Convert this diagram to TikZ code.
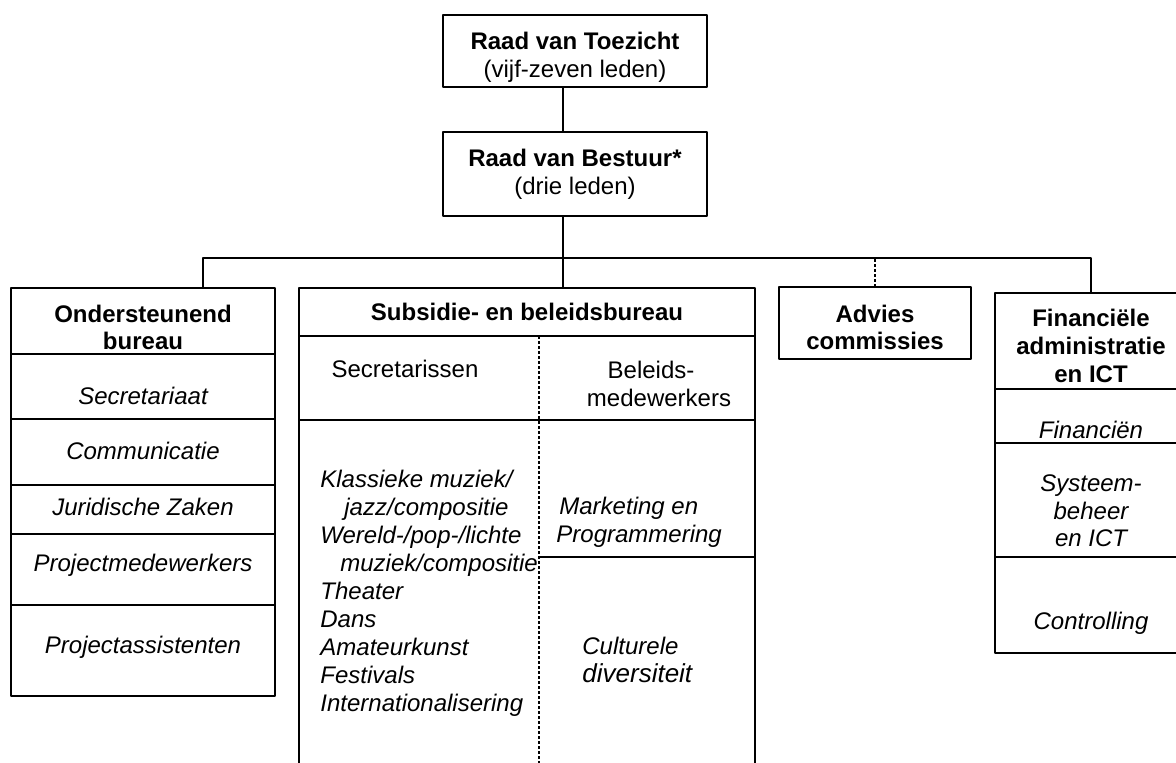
\documentclass[tikz,border=0pt]{standalone}
\usepackage{fontspec}
\setmainfont{Liberation Sans}
\usetikzlibrary{positioning}

\newcommand\pushdown[1]{\rule{0pt}{#1}}

\tikzset{
  box/.style={draw, line width=1pt, inner sep=0pt, outer sep=0pt, anchor=north west, align=center, font=\fontsize{12}{13.8}\selectfont},
  head/.style={box, font=\fontsize{12}{13.8}\selectfont\bfseries},
  txt/.style={inner sep=0pt, align=center, font=\fontsize{12}{13.8}\selectfont\itshape},
  plain/.style={inner sep=0pt, align=center, font=\fontsize{12}{13.8}\selectfont},
  rule/.style={line width=0.8pt},
  link/.style={line width=0.8pt},
  dots/.style={line width=0.8pt, line cap=butt, dash pattern=on 1.5pt off 1pt},
}

\begin{document}
\begin{tikzpicture}[line cap=round,line join=round,x=0.5pt,y=-0.5pt]
\useasboundingbox (0,0) rectangle (1176,763);
\clip (0,0) rectangle (1176,763);
% top of the chart
\node[box, minimum width=132pt, minimum height=36pt] (toezicht) at (443,15) {\pushdown{15pt}\textbf{Raad van Toezicht}\\(vijf-zeven leden)};
\node[box, minimum width=132pt, minimum height=42pt] (bestuur) at (443,132) {\textbf{Raad van Bestuur*}\\(drie leden)};
% Ondersteunend bureau
\node[head, minimum width=132pt, minimum height=33pt] (ond) at (11,288) {\pushdown{15pt}Ondersteunend\\bureau};
\node[box, below=0pt of ond, minimum width=132pt, minimum height=32.5pt] (ond1) {};
\node[box, below=0pt of ond1, minimum width=132pt, minimum height=33pt] (ond2) {};
\node[box, below=0pt of ond2, minimum width=132pt, minimum height=24.5pt] (ond3) {};
\node[box, below=0pt of ond3, minimum width=132pt, minimum height=35.5pt] (ond4) {};
\node[box, below=0pt of ond4, minimum width=132pt, minimum height=45.5pt] (ond5) {};
\node[txt] (secretariaat) at (143,396) {Secretariaat};
\node[txt] (communicatie) at (143,451) {Communicatie};
\node[txt] (juridisch) at (143,507) {Juridische Zaken};
\node[txt] (projmw) at (143,565) {Projectmedewerkers};
\node[txt] (projas) at (143,647) {Projectassistenten};
% Subsidie- en beleidsbureau
\node[head, minimum width=228pt, minimum height=24pt] (sub) at (299,288) {Subsidie- en beleidsbureau};
\draw[line width=1pt] (sub.south west) -- (299,770);
\draw[line width=1pt] (sub.south east) -- (755,770);
\draw[rule] (299,420) -- (755,420);
\draw[rule] (539,557) -- (755,557);
\draw[dots] (539,336) -- (539,770);
\node[plain] (secr) at (405,369) {Secretarissen};
\node[plain] (beleid) at (651,384) {Beleids-\\\hspace*{8pt}medewerkers};
\node[txt, align=left, anchor=west, font=\fontsize{12}{14}\selectfont\itshape] (disc) at (320,593) {Klassieke muziek/\\\hspace*{12pt}jazz/compositie\\Wereld-/pop-/lichte\\\hspace*{10pt}muziek/compositie\\Theater\\Dans\\Amateurkunst\\Festivals\\Internationalisering};
\node[txt, align=left, anchor=west] (marketing) at (556,522) {\hspace*{1.5pt}Marketing en\\Programmering};
\node[txt, align=left, anchor=west] (cultuur) at (582,660) {Culturele\\{\fontsize{13}{13.8}\selectfont diversiteit}};
% Advies commissies
\node[head, minimum width=96pt, minimum height=36pt] (advies) at (779,287) {\pushdown{13pt}Advies\\commissies};
% Financiele administratie en ICT (open to the right)
\node[box, minimum width=110pt, minimum height=48pt] (fin) at (995,293) {};
\node[box, below=0pt of fin, minimum width=110pt, minimum height=27pt] (fin1) {};
\node[box, below=0pt of fin1, minimum width=110pt, minimum height=57pt] (fin2) {};
\node[box, below=0pt of fin2, minimum width=110pt, minimum height=48pt] (fin3) {};
\node[plain, font=\fontsize{12}{13.8}\selectfont\bfseries] (finhead) at (1091,346) {Financiële\\administratie\\en ICT};
\node[txt] (financien) at (1091,430) {Financiën};
\node[txt] (systeem) at (1091,511) {Systeem-\\beheer\\en ICT};
\node[txt] (controlling) at (1091,623) {Controlling};
% connectors
\coordinate (trunk) at (563,258);
\coordinate (busL) at (203,258);
\coordinate (busR) at (1091,258);
\draw[link] (toezicht.south -| trunk) -- (bestuur.north -| trunk);
\draw[link] (bestuur.south -| trunk) -- (sub.north -| trunk);
\draw[link] (ond.north -| busL) -- (busL) -- (busR) -- (fin.north -| busR);
\draw[dots] (advies.north) -- (advies.north |- busL);
\end{tikzpicture}
\end{document}
